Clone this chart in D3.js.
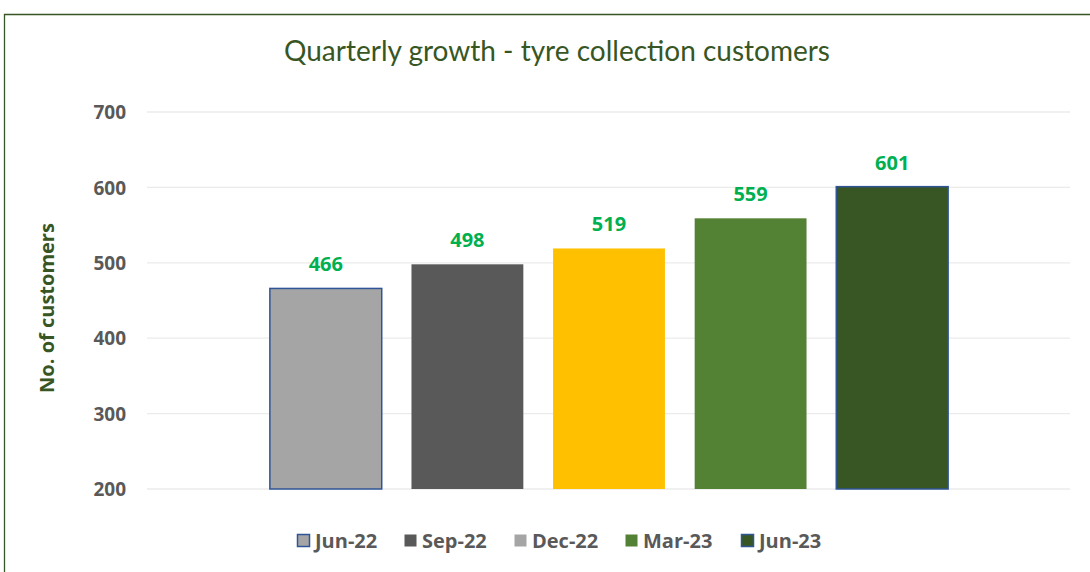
<!DOCTYPE html>
<html><head><meta charset="utf-8">
<script src="https://cdn.jsdelivr.net/npm/d3@7"></script>
<style>html,body{margin:0;padding:0;background:#fff;}svg{display:block;}</style>
</head><body>
<svg id="c" width="1090" height="572"></svg>
<script>
const categories = ["Jun-22", "Sep-22", "Dec-22", "Mar-23", "Jun-23"];
const values = [466, 498, 519, 559, 601];
const barColors = ["#A5A5A5", "#595959", "#FFC000", "#548235", "#375623"];
const barBorders = ["#2F5597", null, null, null, "#2F5597"];
const legendColors = ["#A5A5A5", "#595959", "#A5A5A5", "#548235", "#375623"];
const yTicks = [200, 300, 400, 500, 600, 700];

const svg = d3.select("#c");
const W = 1090, H = 572;
svg.append("rect").attr("x",0).attr("y",0).attr("width",W).attr("height",H).attr("fill","#fff");
// frame
svg.append("path").attr("d","M4.5,600 L4.5,14.5 L1100,14.5").attr("fill","none").attr("stroke","#375623").attr("stroke-width",1.3);

const y = d3.scaleLinear().domain([200,700]).range([489,112]);
const x = d3.scaleBand().domain(categories).range([255,963]).paddingInner(0.21).paddingOuter(0.105);

// gridlines
svg.append("g").selectAll("line").data(yTicks).join("line")
  .attr("x1",147).attr("x2",1070).attr("y1",d=>y(d)).attr("y2",d=>y(d))
  .attr("stroke","#EBEBEB").attr("stroke-width",1.3);

// y axis labels
const yAxis = d3.axisLeft(y).tickValues(yTicks).tickSize(0).tickPadding(0);
const ga = svg.append("g").attr("transform","translate(126,0)").call(yAxis);
ga.select(".domain").remove();
ga.selectAll("text").attr("font-family","Open Sans, sans-serif").attr("font-weight","bold")
  .attr("font-size",19).attr("fill","#595959").attr("dy","0.35em");

// axis title
svg.append("text").attr("transform","translate(54,308) rotate(-90)").attr("text-anchor","middle")
  .attr("font-family","Open Sans, sans-serif").attr("font-weight","bold").attr("font-size",20)
  .attr("fill","#375623").text("No. of customers");

// title
svg.append("text").attr("x",557).attr("y",61).attr("text-anchor","middle")
  .attr("font-family","Lato, sans-serif").attr("font-size",28).attr("fill","#375623")
  .text("Quarterly growth - tyre collection customers");

// bars
svg.append("g").selectAll("rect").data(values).join("rect")
  .attr("x",(d,i)=>x(categories[i])).attr("width",x.bandwidth())
  .attr("y",d=>y(d)).attr("height",d=>y(200)-y(d))
  .attr("fill",(d,i)=>barColors[i])
  .attr("stroke",(d,i)=>barBorders[i]||"none").attr("stroke-width",1.5);

// labels
svg.append("g").selectAll("text").data(values).join("text")
  .attr("x",(d,i)=>x(categories[i])+x.bandwidth()/2).attr("y",d=>y(d)-17)
  .attr("text-anchor","middle").attr("font-family","Open Sans, sans-serif").attr("font-weight","bold")
  .attr("font-size",20).attr("fill","#00B050").text(d=>d);

// legend
const legX = [297, 404, 514, 625, 741];
const lg = svg.append("g").selectAll("g").data(categories).join("g")
  .attr("transform",(d,i)=>`translate(${legX[i]},534)`);
lg.append("rect").attr("x",0.5).attr("y",0.5).attr("width",12).attr("height",12)
  .attr("fill",(d,i)=>legendColors[i]).attr("stroke",(d,i)=>barBorders[i]||"none").attr("stroke-width",1.5);
lg.append("text").attr("x",18).attr("y",7).attr("dy","0.35em")
  .attr("font-family","Open Sans, sans-serif").attr("font-weight","bold").attr("font-size",20)
  .attr("fill","#595959").text(d=>d);
</script>
</body></html>
